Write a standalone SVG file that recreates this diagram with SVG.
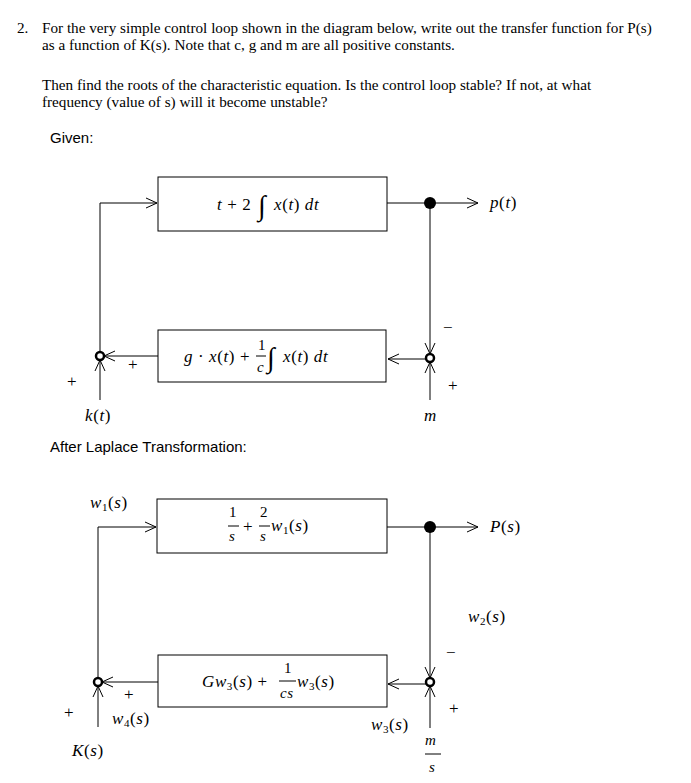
<svg xmlns="http://www.w3.org/2000/svg" width="691" height="783" viewBox="0 0 691 783">
<style>
.t{font-family:"Liberation Serif",serif;font-size:15.2px;fill:#000}
.s{font-family:"Liberation Sans",sans-serif;font-size:15px;fill:#000}
.m{font-family:"Liberation Serif",serif;font-style:italic;font-size:17px;fill:#000;letter-spacing:0.6px}
.n{font-family:"Liberation Serif",serif;font-size:17px;fill:#000}
.f{font-size:15px}
.i{font-size:28px;font-style:normal}
.sm{font-size:11px}
.b{fill:#fff;stroke:#000;stroke-width:1}
.l{fill:none;stroke:#000;stroke-width:1}
.c{fill:#fff;stroke:#000;stroke-width:2.5}
</style>
<defs>
<marker id="a" viewBox="0 0 12 12" refX="11" refY="6" markerWidth="12" markerHeight="12" markerUnits="userSpaceOnUse" orient="auto"><path d="M0,1 L11,6 L0,11" fill="none" stroke="#000"/></marker>
</defs>
<text class="t" x="17" y="33">2.</text>
<text class="t" x="42" y="33">For the very simple control loop shown in the diagram below, write out the transfer function for P(s)</text>
<text class="t" x="42" y="50">as a function of K(s).  Note that c, g and m are all positive constants.</text>
<text class="t" x="42" y="90">Then find the roots of the characteristic equation. Is the control loop stable? If not, at what</text>
<text class="t" x="42" y="107">frequency (value of s) will it become unstable?</text>
<text class="s" x="50" y="143">Given:</text>
<text class="s" x="50" y="452">After Laplace Transformation:</text>
<g id="connectors">
<path class="l" d="M100,352 V203 H157" marker-end="url(#a)"/>
<path class="l" d="M387,203 H478" marker-end="url(#a)"/>
<path class="l" d="M430,203 V354" marker-end="url(#a)"/>
<path class="l" d="M426,359 H388" marker-end="url(#a)"/>
<path class="l" d="M158,356 H104" marker-end="url(#a)"/>
<path class="l" d="M100,400 V360" marker-end="url(#a)"/>
<path class="l" d="M430,400 V362" marker-end="url(#a)"/>
<path class="l" d="M98,678 V527 H156" marker-end="url(#a)"/>
<path class="l" d="M387,527 H478" marker-end="url(#a)"/>
<path class="l" d="M430,527 V678" marker-end="url(#a)"/>
<path class="l" d="M426,684 H388" marker-end="url(#a)"/>
<path class="l" d="M158,682 H102" marker-end="url(#a)"/>
<path class="l" d="M98,727 V686" marker-end="url(#a)"/>
<path class="l" d="M430,728 V686" marker-end="url(#a)"/>
</g>
<g id="box1"><rect class="b" x="158" y="177" width="229" height="54"/>
<text class="m" x="217" y="210">t <tspan font-style="normal">+ 2</tspan></text><text class="n i" x="258" y="215">∫</text><text class="m" x="274" y="210">x<tspan font-style="normal">(</tspan>t<tspan font-style="normal">)</tspan> dt</text></g>
<g id="box2"><rect class="b" x="158" y="330" width="228" height="52"/>
<text class="m" x="184" y="362">g <tspan font-style="normal">· </tspan>x<tspan font-style="normal">(</tspan>t<tspan font-style="normal">) +</tspan></text>
<text class="n f" x="258" y="350">1</text><line class="l" x1="256" y1="356" x2="266" y2="356"/><text class="m f" x="257" y="372">c</text>
<text class="n i" x="267" y="367">∫</text><text class="m" x="283" y="362">x<tspan font-style="normal">(</tspan>t<tspan font-style="normal">)</tspan> dt</text></g>
<g id="box3"><rect class="b" x="157" y="499" width="230" height="54"/>
<text class="n f" x="229" y="517">1</text><line class="l" x1="228" y1="526" x2="239" y2="526"/><text class="m f" x="229" y="541">s</text>
<text class="n" x="243" y="532">+</text>
<text class="n f" x="260" y="517">2</text><line class="l" x1="259" y1="526" x2="270" y2="526"/><text class="m f" x="260" y="541">s</text>
<text class="m" x="271" y="531">w<tspan class="sm" font-style="normal" dy="3">1</tspan><tspan font-style="normal" dy="-3">(</tspan>s<tspan font-style="normal">)</tspan></text></g>
<g id="box4"><rect class="b" x="158" y="655" width="229" height="52"/>
<text class="m" x="202" y="687">Gw<tspan class="sm" font-style="normal" dy="3">3</tspan><tspan font-style="normal" dy="-3">(</tspan>s<tspan font-style="normal">) +</tspan></text>
<text class="n f" x="284" y="673">1</text><line class="l" x1="279" y1="681" x2="296" y2="681"/><text class="m f" x="280" y="698">cs</text>
<text class="m" x="297" y="687">w<tspan class="sm" font-style="normal" dy="3">3</tspan><tspan font-style="normal" dy="-3">(</tspan>s<tspan font-style="normal">)</tspan></text></g>
<g id="nodes">
<circle cx="430" cy="203" r="6"/><circle class="c" cx="100" cy="356" r="4"/><circle class="c" cx="430" cy="358" r="4"/>
<circle cx="430" cy="527" r="6"/><circle class="c" cx="98" cy="682" r="4"/><circle class="c" cx="430" cy="682" r="4"/>
</g>
<g id="labels">
<text class="m" x="490" y="208">p<tspan font-style="normal">(</tspan>t<tspan font-style="normal">)</tspan></text>
<text class="n" x="443" y="333">−</text><text class="n" x="448" y="391">+</text>
<text class="n" x="67" y="387">+</text><text class="n" x="128" y="370">+</text>
<text class="m" x="85" y="421">k<tspan font-style="normal">(</tspan>t<tspan font-style="normal">)</tspan></text>
<text class="m" x="424" y="421">m</text>
<text class="m" x="90" y="508">w<tspan class="sm" font-style="normal" dy="3">1</tspan><tspan font-style="normal" dy="-3">(</tspan>s<tspan font-style="normal">)</tspan></text>
<text class="m" x="490" y="532">P<tspan font-style="normal">(</tspan>s<tspan font-style="normal">)</tspan></text>
<text class="m" x="468" y="622">w<tspan class="sm" font-style="normal" dy="3">2</tspan><tspan font-style="normal" dy="-3">(</tspan>s<tspan font-style="normal">)</tspan></text>
<text class="n" x="446" y="658">−</text><text class="n" x="449" y="714">+</text>
<text class="n" x="64" y="718">+</text><text class="n" x="124" y="700">+</text>
<text class="m" x="112" y="724">w<tspan class="sm" font-style="normal" dy="3">4</tspan><tspan font-style="normal" dy="-3">(</tspan>s<tspan font-style="normal">)</tspan></text>
<text class="m" x="371" y="730">w<tspan class="sm" font-style="normal" dy="3">3</tspan><tspan font-style="normal" dy="-3">(</tspan>s<tspan font-style="normal">)</tspan></text>
<text class="m" x="72" y="756">K<tspan font-style="normal">(</tspan>s<tspan font-style="normal">)</tspan></text>
<text class="m f" x="425" y="745">m</text><line class="l" x1="425" y1="754" x2="441" y2="754"/><text class="m f" x="429" y="772">s</text>
</g>
</svg>
